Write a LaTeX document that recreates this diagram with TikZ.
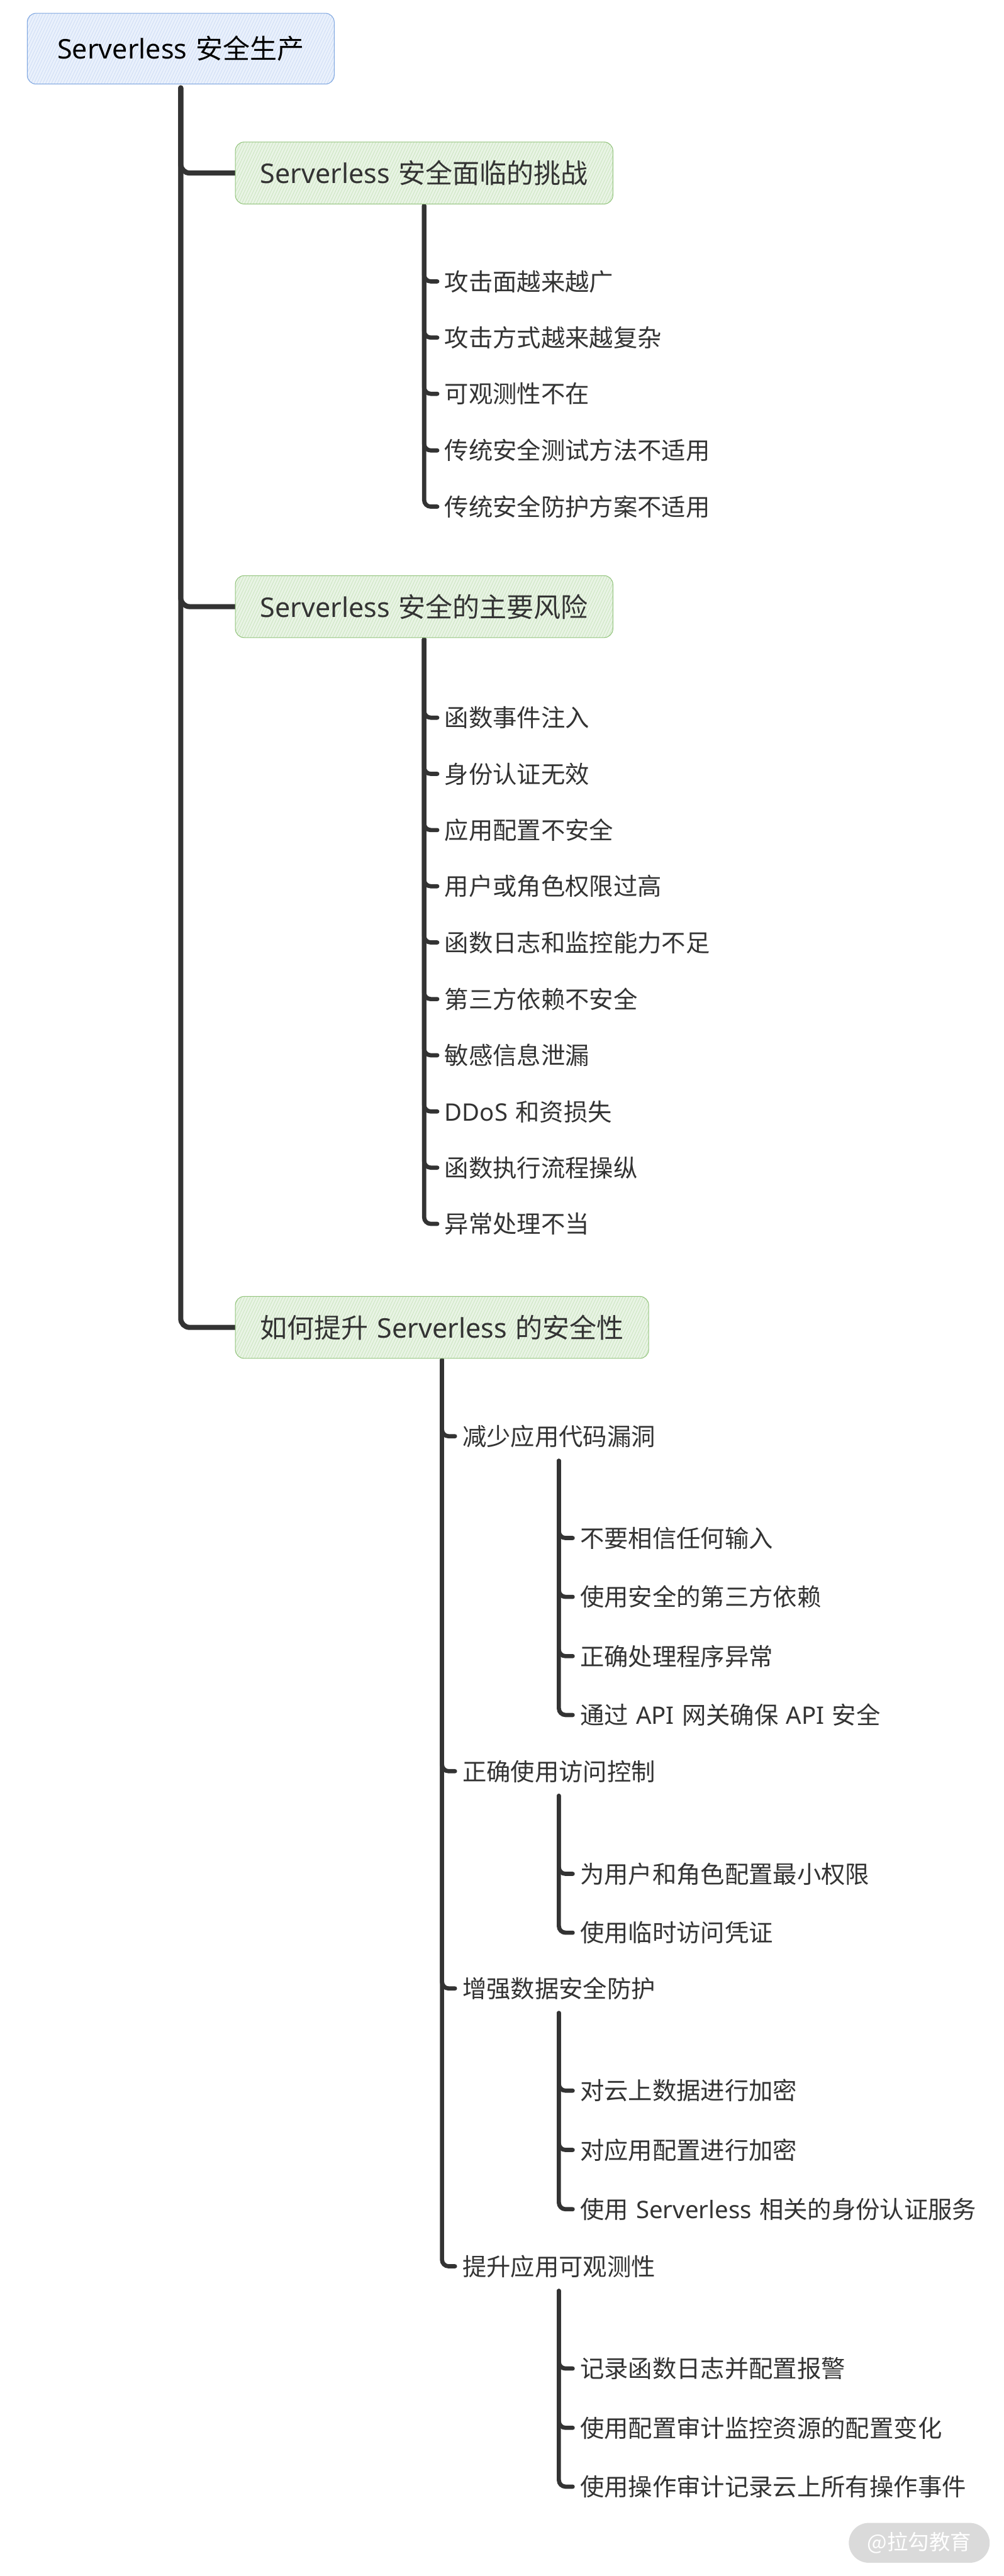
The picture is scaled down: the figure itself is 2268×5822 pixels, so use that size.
\documentclass[tikz,border=0pt]{standalone}
\usepackage{fontspec}
\setmainfont{Noto Sans CJK SC}
\newfontfamily\lat{Noto Sans}
\usetikzlibrary{calc,patterns.meta}
\newcommand\mygap{\hspace{0.32em}}
\definecolor{lc}{HTML}{333333}
\definecolor{txt}{HTML}{333333}
\definecolor{bluef}{HTML}{EAF1FC}
\definecolor{bluep}{HTML}{CFDDF5}
\definecolor{blueb}{HTML}{7EA6E0}
\definecolor{greenf}{HTML}{E9F4E5}
\definecolor{greenp}{HTML}{CBE5C0}
\definecolor{greenb}{HTML}{93C47D}
\definecolor{wmg}{HTML}{DADADA}
\pgfdeclarelayer{background}
\pgfdeclarelayer{canvas}
\pgfsetlayers{canvas,background,main}
\begin{document}
\begin{tikzpicture}[x=0.01cm,y=-0.01cm,
  rootbox/.style={draw=blueb, line width=0.015cm, rounded corners=0.2cm,
    preaction={fill=bluef}, pattern={Lines[angle=65,distance=0.06cm,line width=0.012cm]}, pattern color=bluep,
    minimum height=1.6cm, inner xsep=0.68cm, inner ysep=0pt, text height=13.4pt, text depth=0pt,
    anchor=west, font=\fontsize{17.4pt}{20pt}\selectfont, text=black},
  lonebox/.style={draw=greenb, line width=0.015cm, rounded corners=0.2cm,
    preaction={fill=greenf}, pattern={Lines[angle=65,distance=0.06cm,line width=0.012cm]}, pattern color=greenp,
    minimum height=1.4cm, inner xsep=0.56cm, inner ysep=0pt, text height=13.4pt, text depth=0pt,
    anchor=west, font=\fontsize{17.4pt}{20pt}\selectfont, text=txt},
  itm/.style={anchor=west, inner xsep=0.16cm, inner ysep=0pt, text height=11.9pt, text depth=0pt,
    font=\fontsize{15.5pt}{18pt}\selectfont, text=txt},
  czero/.style={draw=lc, line width=0.115cm, line cap=round, rounded corners=0.2cm},
  cone/.style={draw=lc, line width=0.095cm, line cap=round, rounded corners=0.15cm},
  wm/.style={fill=wmg, rounded corners=0.45cm, minimum width=3.18cm, minimum height=0.9cm,
    inner sep=0pt, text=white, font=\fontsize{13.5pt}{16pt}\selectfont}
]
\begin{pgfonlayer}{canvas}
\fill[white] (0,0) rectangle (2268,5822);
\end{pgfonlayer}
\useasboundingbox (0,0) rectangle (2268,5822);

% root and level 1
\node[rootbox] (root) at (61,110) {{\lat Serverless}\mygap 安全生产};
\node[lonebox] (b1) at (531,391) {{\lat Serverless}\mygap 安全面临的挑战};
\node[lonebox] (b2) at (531,1371) {{\lat Serverless}\mygap 安全的主要风险};
\node[lonebox] (b3) at (531,3000) {如何提升\mygap{\lat Serverless}\mygap 的安全性};

% group 1
\node[itm] (a1) at (988,636) {攻击面越来越广};
\node[itm] (a2) at (988,763) {攻击方式越来越复杂};
\node[itm] (a3) at (988,890) {可观测性不在};
\node[itm] (a4) at (988,1018) {传统安全测试方法不适用};
\node[itm] (a5) at (988,1145) {传统安全防护方案不适用};

% group 2
\node[itm] (r1) at (988,1622) {函数事件注入};
\node[itm] (r2) at (988,1749) {身份认证无效};
\node[itm] (r3) at (988,1876) {应用配置不安全};
\node[itm] (r4) at (988,2003) {用户或角色权限过高};
\node[itm] (r5) at (988,2130) {函数日志和监控能力不足};
\node[itm] (r6) at (988,2258) {第三方依赖不安全};
\node[itm] (r7) at (988,2385) {敏感信息泄漏};
\node[itm] (r8) at (988,2512) {{\lat DDoS}\mygap 和资损失};
\node[itm] (r9) at (988,2639) {函数执行流程操纵};
\node[itm] (r10) at (988,2766) {异常处理不当};

% group 3, level 2
\node[itm] (m1) at (1028,3246) {减少应用代码漏洞};
\node[itm] (m2) at (1028,4003) {正确使用访问控制};
\node[itm] (m3) at (1028,4494) {增强数据安全防护};
\node[itm] (m4) at (1028,5122) {提升应用可观测性};

% group 3, level 3
\node[itm] (m1a) at (1294,3476) {不要相信任何输入};
\node[itm] (m1b) at (1294,3609) {使用安全的第三方依赖};
\node[itm] (m1c) at (1294,3743) {正确处理程序异常};
\node[itm] (m1d) at (1294,3876) {通过\mygap{\lat API}\mygap 网关确保\mygap{\lat API}\mygap 安全};
\node[itm] (m2a) at (1294,4235) {为用户和角色配置最小权限};
\node[itm] (m2b) at (1294,4368) {使用临时访问凭证};
\node[itm] (m3a) at (1294,4725) {对云上数据进行加密};
\node[itm] (m3b) at (1294,4859) {对应用配置进行加密};
\node[itm] (m3c) at (1294,4993) {使用\mygap{\lat Serverless}\mygap 相关的身份认证服务};
\node[itm] (m4a) at (1294,5353) {记录函数日志并配置报警};
\node[itm] (m4b) at (1294,5487) {使用配置审计监控资源的配置变化};
\node[itm] (m4c) at (1294,5620) {使用操作审计记录云上所有操作事件};

% watermark
\node[wm] (wmk) at (2077,5747) {@拉勾教育};

\begin{pgfonlayer}{background}
  \coordinate (t0) at ($(root.south)+(0,8)$);
  \foreach \n in {b1,b2,b3} \draw[czero] (t0) |- (\n.west);
  \coordinate (t1) at ($(b1.south)+(0,3)$);
  \foreach \n in {a1,a2,a3,a4,a5} \draw[cone] (t1) |- (\n.west);
  \coordinate (t2) at ($(b2.south)+(0,3)$);
  \foreach \n in {r1,r2,r3,r4,r5,r6,r7,r8,r9,r10} \draw[cone] (t2) |- (\n.west);
  \coordinate (t3) at ($(b3.south)+(0,3)$);
  \foreach \n in {m1,m2,m3,m4} \draw[cone] (t3) |- (\n.west);
  \coordinate (s1) at ($(m1.south)+(0,34)$);
  \foreach \n in {m1a,m1b,m1c,m1d} \draw[cone] (s1) |- (\n.west);
  \coordinate (s2) at ($(m2.south)+(0,34)$);
  \foreach \n in {m2a,m2b} \draw[cone] (s2) |- (\n.west);
  \coordinate (s3) at ($(m3.south)+(0,34)$);
  \foreach \n in {m3a,m3b,m3c} \draw[cone] (s3) |- (\n.west);
  \coordinate (s4) at ($(m4.south)+(0,34)$);
  \foreach \n in {m4a,m4b,m4c} \draw[cone] (s4) |- (\n.west);
\end{pgfonlayer}
\end{tikzpicture}
\end{document}
